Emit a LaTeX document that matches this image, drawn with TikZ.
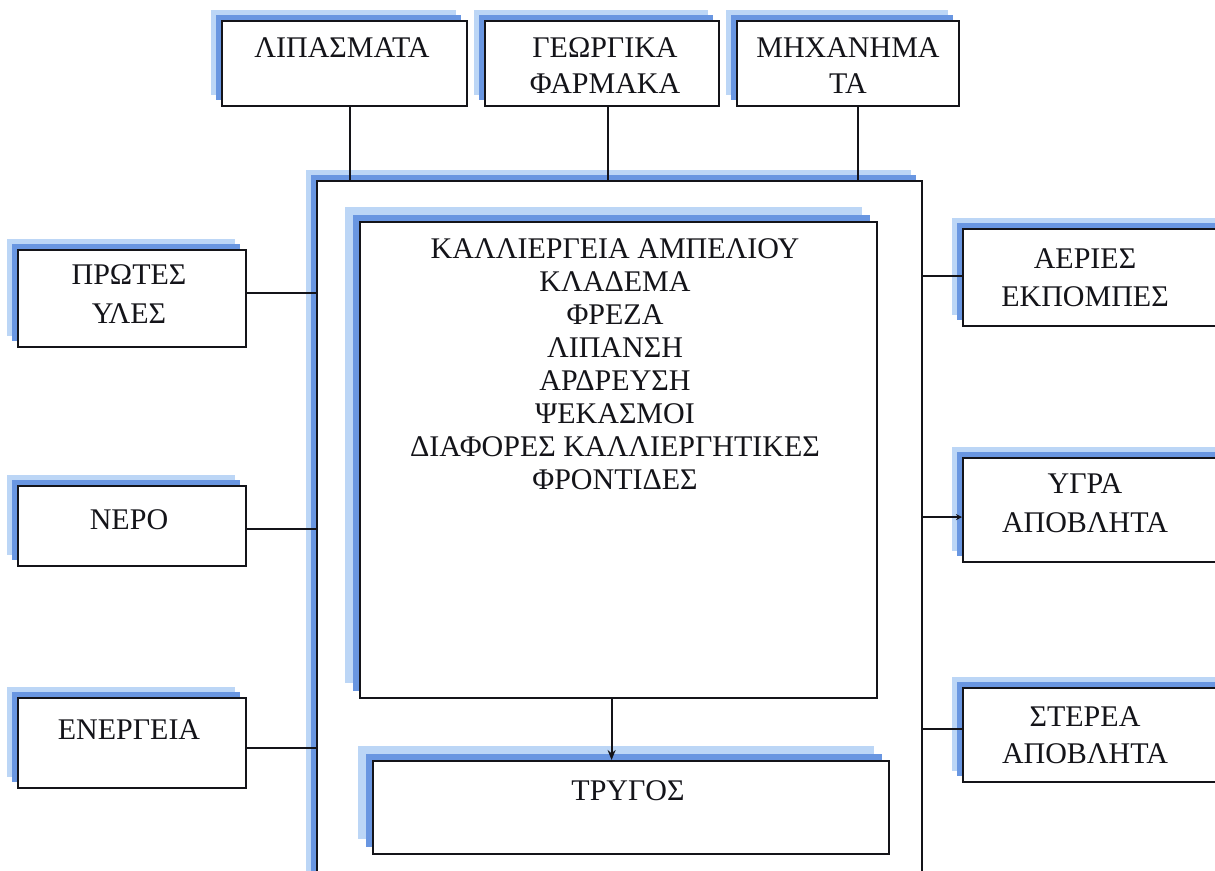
\documentclass[tikz,border=0pt]{standalone}
\usepackage{fontspec}
\setmainfont{Liberation Serif}
\usetikzlibrary{shadows,arrows.meta}
\definecolor{shDark}{RGB}{105,150,225}
\definecolor{shLight}{RGB}{188,214,246}
\definecolor{ink}{RGB}{20,20,25}
\tikzset{
  glow/.style={
    general shadow={fill=shLight,shadow xshift=-11pt,shadow yshift=11pt},
    general shadow={fill=shDark,shadow xshift=-6pt,shadow yshift=6pt}},
  bigglow/.style={
    general shadow={fill=shLight,shadow xshift=-15pt,shadow yshift=15pt},
    general shadow={fill=shDark,shadow xshift=-7pt,shadow yshift=7pt}},
  blk/.style={draw=ink,line width=2.2pt,fill=white,inner sep=0pt,
    anchor=north west},
  txt/.style={text=ink,align=center,inner sep=0pt,anchor=north,
    font=\fontsize{30}{#1}\selectfont},
  txt/.default=37,
  conn/.style={draw=ink,line width=2.2pt},
}
\begin{document}
\begin{tikzpicture}[x=1pt,y=-1pt]
\useasboundingbox (0,0) rectangle (1215,870);
\clip (0,0) rectangle (1215,870);
\fill[white] (0,0) rectangle (1215,870);

% main frame (its lower edge runs past the page)
\node[blk,glow,minimum width=605pt,minimum height=740pt] (frame) at (316,180) {};

% input boxes on top
\node[blk,glow,minimum width=245pt,minimum height=85pt] (lip)  at (221,20) {};
\node[blk,glow,minimum width=234pt,minimum height=85pt] (geo)  at (484,20) {};
\node[blk,glow,minimum width=222pt,minimum height=85pt] (mech) at (736,20) {};

% input boxes on the left
\node[blk,glow,minimum width=228pt,minimum height=97pt] (prot) at (17,249) {};
\node[blk,glow,minimum width=228pt,minimum height=80pt] (nero) at (17,485) {};
\node[blk,glow,minimum width=228pt,minimum height=90pt] (ener) at (17,697) {};

% output boxes on the right
\node[blk,glow,minimum width=270pt,minimum height=97pt]  (aer)  at (962,228) {};
\node[blk,glow,minimum width=270pt,minimum height=104pt] (ygra) at (962,457) {};
\node[blk,glow,minimum width=270pt,minimum height=94pt]  (ster) at (962,687) {};

% process boxes inside the frame
\node[blk,bigglow,minimum width=517pt,minimum height=476pt] (kal)  at (359,221) {};
\node[blk,bigglow,minimum width=516pt,minimum height=93pt]  (tryg) at (372,760) {};

% labels
\node[txt] (tlip)  at (342,37)  {ΛΙΠΑΣΜΑΤΑ};
\node[txt=36] (tgeo) at (605,37) {ΓΕΩΡΓΙΚΑ\\ΦΑΡΜΑΚΑ};
\node[txt=36] (tmech) at (848,37) {ΜΗΧΑΝΗΜΑ\\ΤΑ};
\node[txt=39] (tprot) at (129,264) {ΠΡΩΤΕΣ\\ΥΛΕΣ};
\node[txt] (tnero) at (129,509) {ΝΕΡΟ};
\node[txt] (tener) at (129,719) {ΕΝΕΡΓΕΙΑ};
\node[txt=38] (taer)  at (1085,248) {ΑΕΡΙΕΣ\\ΕΚΠΟΜΠΕΣ};
\node[txt=39] (tygra) at (1085,473) {ΥΓΡΑ\\ΑΠΟΒΛΗΤΑ};
\node[txt=37] (tster) at (1085,706) {ΣΤΕΡΕΑ\\ΑΠΟΒΛΗΤΑ};
\node[txt=33] (tkal) at (615,238) {ΚΑΛΛΙΕΡΓΕΙΑ ΑΜΠΕΛΙΟΥ\\ΚΛΑΔΕΜΑ\\ΦΡΕΖΑ\\ΛΙΠΑΝΣΗ\\ΑΡΔΡΕΥΣΗ\\ΨΕΚΑΣΜΟΙ\\ΔΙΑΦΟΡΕΣ ΚΑΛΛΙΕΡΓΗΤΙΚΕΣ\\ΦΡΟΝΤΙΔΕΣ};
\node[txt] (ttryg) at (628,780) {ΤΡΥΓΟΣ};

% connectors from the top inputs
\draw[conn] ([xshift=5pt]lip.south)  -- ([xshift=5pt]lip.south |- frame.north);
\draw[conn] ([xshift=6pt]geo.south)  -- ([xshift=6pt]geo.south |- frame.north);
\draw[conn] ([xshift=10pt]mech.south) -- ([xshift=10pt]mech.south |- frame.north);

% connectors from the left inputs
\draw[conn] ([yshift=5.5pt]prot.east) -- ([yshift=5.5pt]prot.east -| frame.west);
\draw[conn] ([yshift=-3pt]nero.east)  -- ([yshift=-3pt]nero.east -| frame.west);
\draw[conn] ([yshift=-5pt]ener.east)  -- ([yshift=-5pt]ener.east -| frame.west);

% connectors to the right outputs
\draw[conn] ([yshift=1.5pt]aer.west -| frame.east) -- ([yshift=1.5pt]aer.west);
\draw[conn,-{Stealth[length=6pt,width=6pt]}] ([yshift=-7pt]ygra.west -| frame.east) -- ([yshift=-7pt]ygra.west);
\draw[conn] ([yshift=6pt]ster.west -| frame.east) -- ([yshift=6pt]ster.west);

% cultivation leads to harvest
\draw[conn,-{Stealth[length=10pt,width=8pt]}] ([xshift=-7pt]kal.south) -- ([xshift=-7pt]kal.south |- tryg.north);
\end{tikzpicture}
\end{document}
